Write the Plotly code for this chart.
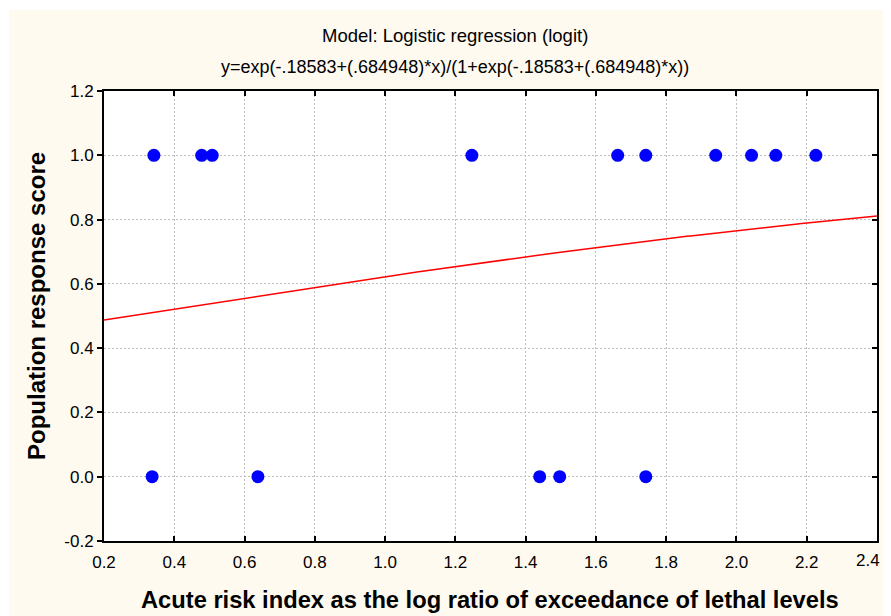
import numpy as np
import plotly.graph_objects as go

x_resp1 = [0.342, 0.478, 0.508, 1.247, 1.662, 1.742, 1.941, 2.043, 2.112, 2.226]
y_resp1 = [1.0] * len(x_resp1)
x_resp0 = [0.337, 0.638, 1.440, 1.497, 1.742]
y_resp0 = [0.0] * len(x_resp0)

# Model coefficients shown in the chart title
b0 = -0.18583
b1 = 0.684948
x_fit = np.linspace(0.2, 2.4, 200)
y_fit = np.exp(b0 + b1 * x_fit) / (1 + np.exp(b0 + b1 * x_fit))

x_ticks = [0.2, 0.4, 0.6, 0.8, 1.0, 1.2, 1.4, 1.6, 1.8, 2.0, 2.2, 2.4]
y_ticks = [-0.2, 0.0, 0.2, 0.4, 0.6, 0.8, 1.0, 1.2]
x_range = [0.2, 2.4]
y_range = [-0.2, 1.2]

# page body has an 8px margin; work in figure pixel coordinates
OFF = 8
W, H = 891 - OFF, 616 - OFF
ml, mr, mt = 104 - OFF, 14, 91 - OFF
mb = H - mt - 450
pw, ph = W - ml - mr, H - mt - mb

def px(xp):
    return (xp - OFF - ml) / pw

def py(yp):
    return 1 - (yp - OFF - mt) / ph

FONT = "Liberation Sans, Arial, sans-serif"
cream = "#fffaf0"
TICKFONT = 17

# last x tick label drawn as an annotation so it stays inside the visible page
x_ticktext = [f"{v:.1f}" for v in x_ticks]
last_label = x_ticktext[-1]
x_ticktext[-1] = ""

fig = go.Figure()
fig.add_trace(go.Scatter(x=x_fit, y=y_fit, mode="lines", yaxis="y2",
                         line=dict(color="#ff0000", width=1.5),
                         hoverinfo="skip", showlegend=False))
fig.add_trace(go.Scatter(x=x_resp1 + x_resp0, y=y_resp1 + y_resp0, mode="markers",
                         marker=dict(color="#0000ff", size=13, symbol="circle"),
                         showlegend=False))

fig.update_layout(
    width=W, height=H,
    autosize=False,
    margin=dict(l=ml, r=mr, t=mt, b=mb, autoexpand=False),
    paper_bgcolor=cream,
    plot_bgcolor="white",
    font=dict(family=FONT, color="black"),
    shapes=[
        dict(type="rect", xref="paper", yref="paper", x0=px(0), x1=px(9),
             y0=py(H + OFF + 5), y1=py(0), fillcolor="white", line_width=0, layer="below"),
        dict(type="rect", xref="paper", yref="paper", x0=px(0), x1=px(W + OFF + 5),
             y0=py(10), y1=py(0), fillcolor="white", line_width=0, layer="below"),
    ],
    annotations=[
        dict(text="Model: Logistic regression (logit)", xref="paper", yref="paper",
             x=px(455), y=py(36), showarrow=False, font=dict(size=18.5),
             xanchor="center", yanchor="middle"),
        dict(text="y=exp(-.18583+(.684948)*x)/(1+exp(-.18583+(.684948)*x))",
             xref="paper", yref="paper",
             x=px(455), y=py(67), showarrow=False, font=dict(size=18),
             xanchor="center", yanchor="middle"),
        dict(text="<b>Acute risk index as the log ratio of exceedance of lethal levels</b>",
             xref="paper", yref="paper", x=px(490), y=py(600), showarrow=False,
             font=dict(size=23.7), xanchor="center", yanchor="middle"),
        dict(text="<b>Population response score</b>", xref="paper", yref="paper",
             x=px(36), y=py(306), showarrow=False, textangle=-90,
             font=dict(size=24), xanchor="center", yanchor="middle"),
        dict(text=last_label, xref="x", yref="paper", x=x_ticks[-1], y=py(560),
             xanchor="right", yanchor="middle", xshift=5, showarrow=False,
             font=dict(size=TICKFONT)),
    ],
    yaxis2=dict(overlaying="y", side="right", range=y_range, tickvals=y_ticks,
                showticklabels=False, showgrid=False, zeroline=False,
                showline=True, linecolor="black", linewidth=2,
                ticks="inside", ticklen=5, tickwidth=1.5, tickcolor="black",
                automargin=False),
)

fig.update_xaxes(range=x_range, tickvals=x_ticks,
                 ticktext=x_ticktext, automargin=False,
                 showgrid=True, gridcolor="#c0c0c0", griddash="2px,2px", gridwidth=1,
                 showline=True, linecolor="black", linewidth=2, mirror="ticks",
                 ticks="inside", ticklen=5, tickwidth=1.5, tickcolor="black",
                 ticklabelstandoff=5,
                 tickfont=dict(size=TICKFONT), zeroline=False)
fig.update_layout(yaxis=dict(range=y_range, tickvals=y_ticks,
                 ticktext=[f"{v:.1f}" for v in y_ticks], automargin=False,
                 showgrid=True, gridcolor="#c0c0c0", griddash="2px,2px", gridwidth=1,
                 showline=True, linecolor="black", linewidth=2, mirror=False,
                 ticks="outside", ticklen=5, tickwidth=1.5, tickcolor="black",
                 tickfont=dict(size=TICKFONT), zeroline=False))

fig.write_html("out.html")
